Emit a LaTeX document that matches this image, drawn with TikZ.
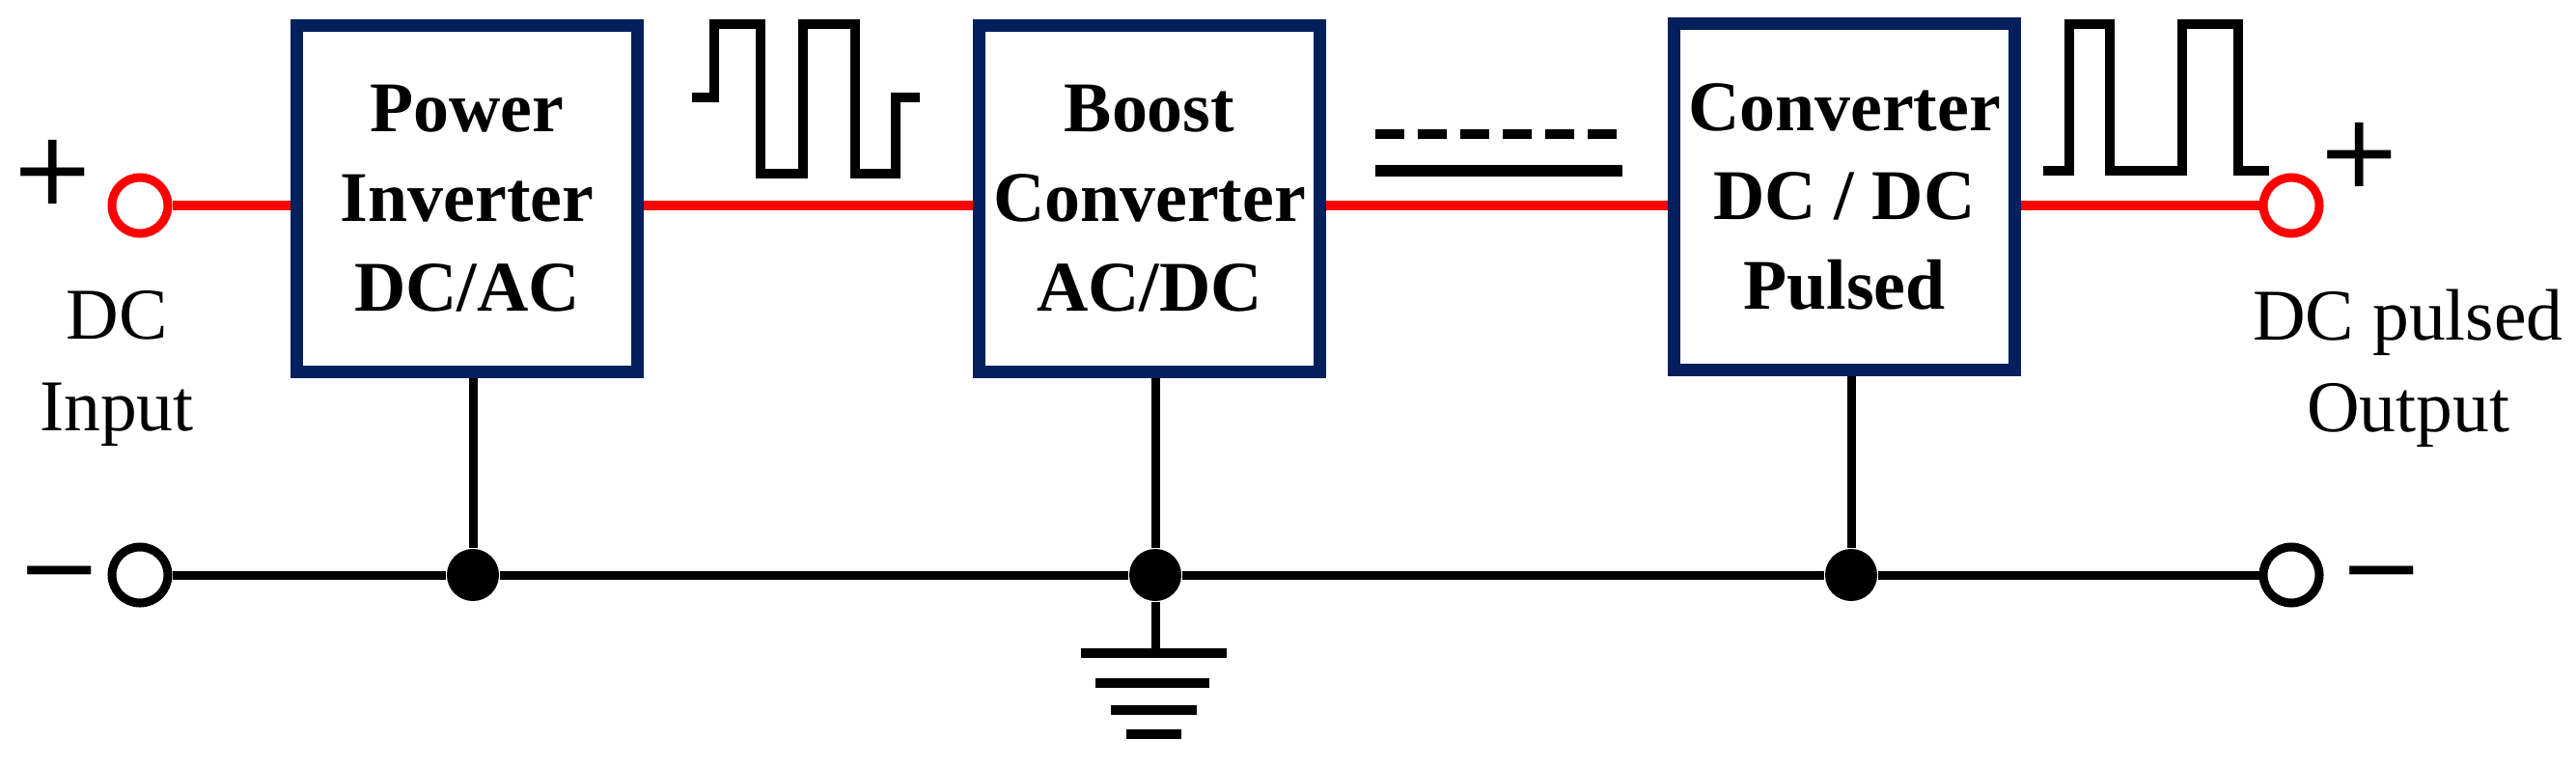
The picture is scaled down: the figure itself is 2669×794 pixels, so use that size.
\documentclass[tikz,border=0pt]{standalone}
\usepackage{fontspec}
\setmainfont{Liberation Serif}
\newfontfamily\sgnfont{DejaVu Sans}
\begin{document}
\begin{tikzpicture}[x=0.01cm,y=-0.01cm,
  blk/.style={draw=navy,line width=13*0.2845pt,fill=white,minimum width=353*0.2845pt,minimum height=359*0.2845pt,inner sep=0pt,align=center,font=\fontsize{21}{26.4}\selectfont\bfseries},
  lbl/.style={align=center,font=\fontsize{21.5}{27}\selectfont},
  wire/.style={line width=9*0.2845pt},
  red wire/.style={line width=10*0.2845pt,draw=red},
  term/.style={circle,draw,line width=9*0.2845pt,minimum size=58*0.2845pt,inner sep=0pt,fill=white},
  dot/.style={circle,fill=black,minimum size=54*0.2845pt,inner sep=0pt},
  sgn/.style={font=\sgnfont\fontsize{30}{30}\selectfont,inner sep=0pt},
  sig/.style={line width=10*0.2845pt,line join=miter}]
\definecolor{navy}{HTML}{04205C}
\useasboundingbox (0,0) rectangle (2669,794);
% nodes
\node[blk] (b1) at (484,206) {Power\\Inverter\\DC/AC};
\node[blk] (b2) at (1191,206) {Boost\\Converter\\AC/DC};
\node[blk] (b3) at (1911,204) {Converter\\DC / DC\\Pulsed};
\node[term,draw=red] (pin) at (145,213) {};
\node[term,draw=red] (pout) at (2374,213) {};
\node[term] (nin) at (145,596) {};
\node[term] (nout) at (2374,596) {};
\node[dot] (j1) at (490,596) {};
\node[dot] (j2) at (1197,596) {};
\node[dot] (j3) at (1918,596) {};
\coordinate (g) at (1197,677);
% red wires
\draw[red wire] (pin) -- (pin -| b1.west);
\draw[red wire] (pin -| b1.east) -- (pin -| b2.west);
\draw[red wire] (pin -| b2.east) -- (pin -| b3.west);
\draw[red wire] (pin -| b3.east) -- (pout);
% ground bus
\draw[wire] (nin) -- (j1) -- (j2) -- (j3) -- (nout);
\draw[wire] (b1.south -| j1) -- (j1);
\draw[wire] (b2.south -| j2) -- (j2);
\draw[wire] (b3.south -| j3) -- (j3);
\draw[wire] (j2) -- (g);
% ground symbol
\draw[line width=10*0.2845pt] (1120,677) -- (1271,677);
\draw[line width=10*0.2845pt] (1135,708) -- (1253,708);
\draw[line width=10*0.2845pt] (1151,736) -- (1240,736);
\draw[line width=10*0.2845pt] (1167,761) -- (1224,761);
% signs
\node[sgn] (plusin) at (55,178) {+};
\node[sgn] (plusout) at (2445,160) {+};
\node[sgn] (minin) at (62,606) {−};
\node[sgn] (minout) at (2468,606) {−};
% labels
\node[lbl] (lin) at (121,382) {DC\\Input};
\node[lbl] (lout) at (2495,382) {DC pulsed\\Output};
% waveforms
\draw[sig] (717,101) -- (740,101) -- (740,25) -- (788,25) -- (788,180) -- (832,180) -- (832,25) -- (886,25) -- (886,180) -- (928,180) -- (928,101) -- (953,101);
\draw[sig] (2117,177) -- (2144,177) -- (2144,25) -- (2186,25) -- (2186,177) -- (2261,177) -- (2261,25) -- (2319,25) -- (2319,177) -- (2351,177);
\draw[line width=10*0.2845pt,dash pattern=on 30*0.2845pt off 14*0.2845pt] (1425,139) -- (1681,139);
\draw[line width=11*0.2845pt] (1425,177) -- (1681,177);
\end{tikzpicture}
\end{document}
